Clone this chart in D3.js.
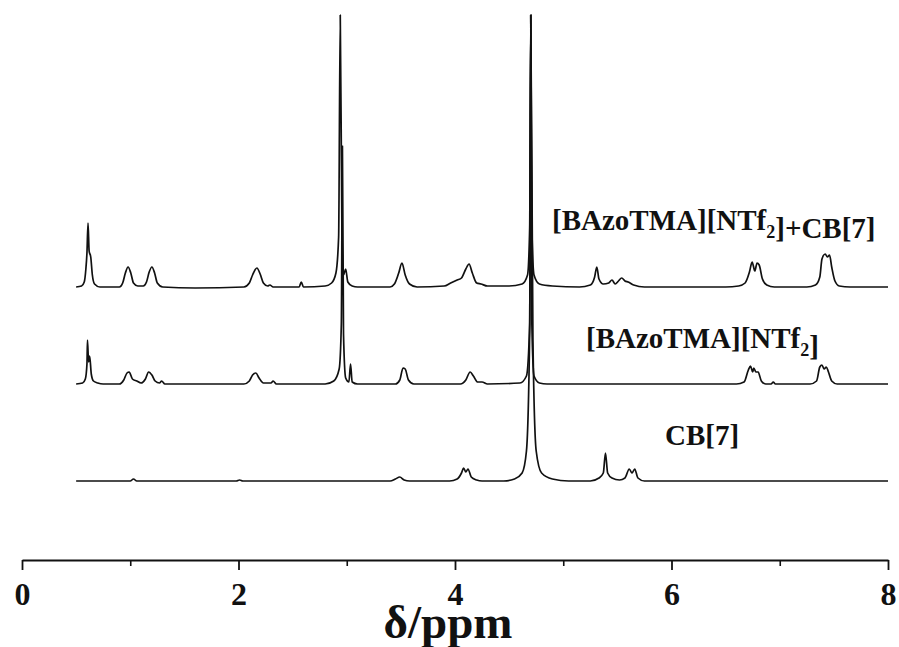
<!DOCTYPE html>
<html>
<head>
<meta charset="utf-8">
<script src="https://cdn.jsdelivr.net/npm/d3@7"></script>
<style>
  html, body { margin: 0; padding: 0; background: #fff; }
  svg { display: block; }
  text { font-family: "Times New Roman", "Liberation Serif", serif; font-weight: bold; fill: #111; }
</style>
</head>
<body>
<svg id="chart" width="899" height="647"></svg>
<script>
// ---- Data (chemical shift in ppm, relative intensity) ----
const spectrumComplex = [ // [BAzoTMA][NTf2]+CB[7]
  [0.50,0],[0.55,1],[0.575,5],[0.59,18],[0.60,34],[0.61,64],[0.62,36],[0.635,30],[0.65,12],[0.67,3],[0.72,0],
  [0.90,0],[0.93,4],[0.955,14],[0.98,20],[1.005,14],[1.03,4],[1.07,1],[1.12,1],[1.15,5],[1.175,15],
  [1.20,20],[1.225,14],[1.25,4],[1.30,0],[1.60,-1],[2.05,0],[2.10,4],[2.13,12],[2.17,19],[2.20,13],
  [2.23,4],[2.27,1],[2.29,2],[2.32,0],[2.56,0],[2.58,5],[2.60,0],[2.80,1],[2.86,4],[2.90,14],
  [2.925,50],[2.94,272],[2.955,60],[2.97,12],[2.99,18],[3.01,5],[3.05,1],[3.10,0],[3.40,0],[3.44,3],
  [3.48,14],[3.51,24],[3.54,12],[3.58,3],[3.65,0],[3.90,1],[3.96,4],[4.02,7],[4.06,9],[4.10,18],
  [4.13,23],[4.16,14],[4.20,4],[4.24,3],[4.30,1],[4.50,1],[4.62,3],[4.67,12],[4.69,60],[4.70,272],
  [4.71,60],[4.73,12],[4.78,3],[4.90,1],[5.15,0],[5.25,2],[5.29,10],[5.31,20],[5.33,8],[5.37,3],
  [5.42,4],[5.45,7],[5.48,3],[5.51,6],[5.54,9],[5.57,6],[5.60,5],[5.65,2],[5.75,0],[6.50,0],
  [6.62,1],[6.68,4],[6.72,15],[6.745,25],[6.77,16],[6.79,24],[6.81,22],[6.84,8],[6.88,2],[6.95,0],
  [7.25,0],[7.33,2],[7.37,10],[7.39,28],[7.42,33],[7.44,30],[7.46,32],[7.48,20],[7.51,6],[7.55,1],
  [7.65,0],[8.00,0]
];
const spectrumGuest = [ // [BAzoTMA][NTf2]
  [0.50,0],[0.56,1],[0.585,5],[0.60,20],[0.605,44],[0.615,22],[0.625,28],[0.64,10],[0.66,3],[0.70,1],
  [0.75,0],[0.90,0],[0.94,4],[0.97,11],[0.99,12],[1.02,5],[1.06,3],[1.10,1],[1.14,5],[1.17,12],
  [1.20,9],[1.23,3],[1.27,1],[1.29,3],[1.32,0],[2.05,0],[2.10,3],[2.13,9],[2.16,11],[2.19,6],
  [2.23,1],[2.30,1],[2.32,3],[2.35,0],[2.80,0],[2.88,3],[2.93,15],[2.95,60],[2.96,238],[2.97,50],
  [2.99,6],[3.02,2],[3.035,20],[3.05,2],[3.10,0],[3.45,0],[3.49,4],[3.52,16],[3.54,15],[3.57,4],
  [3.62,0],[4.05,0],[4.10,4],[4.14,12],[4.17,8],[4.21,2],[4.25,2],[4.30,0],[4.60,1],[4.66,8],
  [4.69,60],[4.70,369],[4.71,60],[4.73,8],[4.78,1],[4.85,0],[6.60,0],[6.67,2],[6.71,14],[6.73,18],
  [6.75,12],[6.76,16],[6.78,12],[6.80,12],[6.83,3],[6.87,0],[6.92,0],[6.94,2],[6.96,0],[7.28,0],
  [7.34,3],[7.37,17],[7.39,19],[7.41,15],[7.43,17],[7.45,12],[7.48,3],[7.53,0],[8.00,0]
];
const spectrumHost = [ // CB[7]
  [0.50,0],[1.00,0],[1.03,2],[1.06,0],[1.98,0],[2.01,1],[2.04,0],[3.40,0],[3.45,2],[3.49,4],
  [3.53,1],[3.58,0],[3.95,0],[4.02,2],[4.06,8],[4.08,13],[4.10,9],[4.12,12],[4.15,4],[4.20,1],
  [4.25,0],[4.45,0],[4.55,2],[4.62,8],[4.66,30],[4.69,150],[4.70,466],[4.72,140],[4.75,30],[4.80,8],
  [4.90,2],[5.05,0],[5.25,0],[5.33,3],[5.37,8],[5.39,28],[5.41,8],[5.45,3],[5.52,1],[5.57,3],
  [5.61,12],[5.635,8],[5.66,12],[5.69,3],[5.75,0],[8.00,0]
];
const seriesNames = ["[BAzoTMA][NTf2]+CB[7]", "[BAzoTMA][NTf2]", "CB[7]"];
const seriesOffsets = [194, 97, 0];   // vertical stacking offset, intensity units
const majorTicks = [0, 2, 4, 6, 8];
const minorTicks = [1, 3, 5, 7];
const xTitle = "δ/ppm";

// ---- Layout ----
const svg = d3.select("#chart");
const x = d3.scaleLinear().domain([0, 8]).range([22, 888]);
const y = d3.scaleLinear().domain([0, 466]).range([481, 15]);

const spectra = [spectrumComplex, spectrumGuest, spectrumHost];
const line = d3.line().curve(d3.curveMonotoneX);

spectra.forEach((s, i) => {
  const off = seriesOffsets[i];
  svg.append("path")
    .attr("d", line.x(d => x(d[0])).y(d => y(d[1] + off))(s))
    .attr("fill", "none")
    .attr("stroke", "#111")
    .attr("stroke-width", 1.7)
    .attr("stroke-linejoin", "round");
});

// ---- Labels ----
function label(xp, yp, parts) {
  const t = svg.append("text").attr("x", xp).attr("y", yp).attr("font-size", 29);
  parts.forEach(p => {
    if (p.sub) {
      t.append("tspan").attr("font-size", 18).attr("dy", 8).text(p.t);
      t.append("tspan").attr("dy", -8).text("");
    } else {
      t.append("tspan").text(p.t);
    }
  });
}
label(552, 230, [{t: "[BAzoTMA][NTf"}, {t: "2", sub: true}, {t: "]+CB[7]"}]);
label(586, 348, [{t: "[BAzoTMA][NTf"}, {t: "2", sub: true}, {t: "]"}]);
label(665, 445, [{t: seriesNames[2]}]);

// ---- Axis ----
const axisY = 560;
const gMinor = svg.append("g").attr("transform", `translate(0,${axisY})`)
  .call(d3.axisBottom(x).tickValues(minorTicks).tickSize(6).tickFormat(""));
gMinor.select(".domain").remove();
gMinor.selectAll("line").attr("stroke", "#111").attr("stroke-width", 1.6);

const gAxis = svg.append("g").attr("transform", `translate(0,${axisY})`)
  .call(d3.axisBottom(x).tickValues(majorTicks).tickSize(10).tickSizeOuter(0).tickFormat(d3.format("d")));
gAxis.select(".domain").attr("stroke", "#111").attr("stroke-width", 2);
gAxis.selectAll("line").attr("stroke", "#111").attr("stroke-width", 1.8);
gAxis.selectAll("text")
  .attr("y", 45).attr("dy", 0)
  .attr("font-size", 32)
  .attr("font-family", "\"Times New Roman\", \"Liberation Serif\", serif")
  .attr("font-weight", "bold")
  .attr("fill", "#111");

svg.append("text")
  .attr("x", 448).attr("y", 638)
  .attr("text-anchor", "middle")
  .attr("font-size", 47)
  .text(xTitle);
</script>
</body>
</html>
